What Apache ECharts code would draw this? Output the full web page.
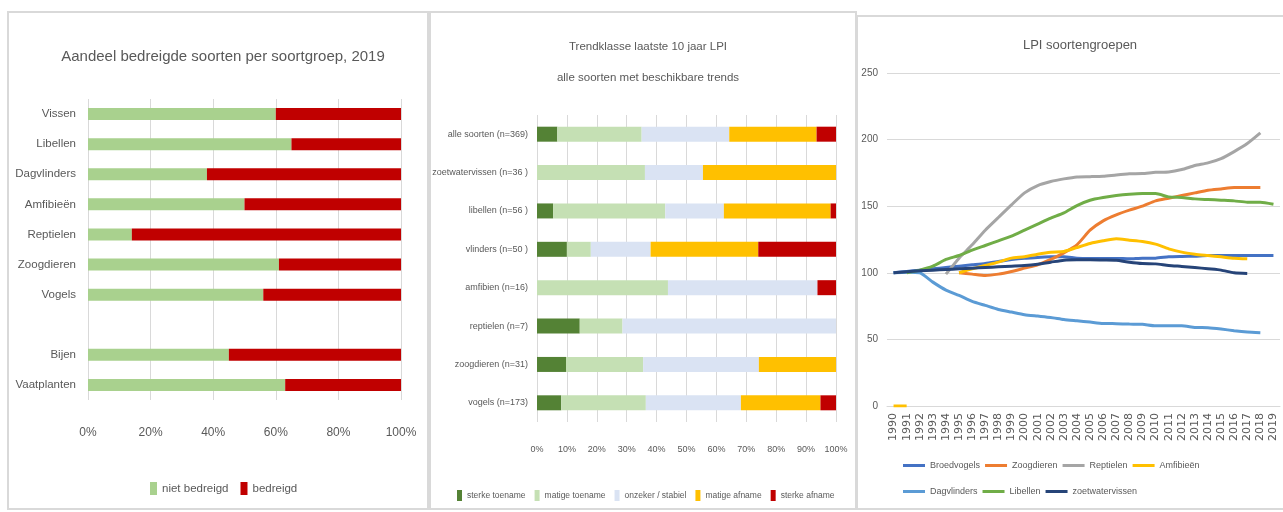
<!DOCTYPE html>
<html>
<head>
<meta charset="utf-8">
<script src="https://cdn.jsdelivr.net/npm/echarts@6/dist/echarts.min.js"></script>
<style>
  html, body { margin: 0; padding: 0; background: #fff; }
  #main { width: 1283px; height: 512px; }
</style>
</head>
<body>
<div id="main"></div>
<script>
// paneel 1: aandeel bedreigde soorten
const groepen = ['Vissen', 'Libellen', 'Dagvlinders', 'Amfibieën', 'Reptielen', 'Zoogdieren', 'Vogels', '', 'Bijen', 'Vaatplanten']
const nietBedreigd = [60, 65, 38, 50, 14, 61, 56, null, 45, 63]
const bedreigd = [40, 35, 62, 50, 86, 39, 44, null, 55, 37]

// paneel 2: trendklassen (% van soorten)
const trendGroepen = ['alle soorten (n=369)', 'zoetwatervissen (n=36 )', 'libellen (n=56 )', 'vlinders (n=50 )',
  'amfibien (n=16)', 'reptielen (n=7)', 'zoogdieren (n=31)', 'vogels (n=173)']
const sterkeToename = [6.8, 0, 5.4, 10, 0, 14.3, 9.7, 8.1]
const matigeToename = [28.2, 36.1, 37.5, 8, 43.8, 14.3, 25.8, 28.3]
const onzeker = [29.3, 19.4, 19.6, 20, 50, 71.4, 38.7, 31.8]
const matigeAfname = [29.2, 44.5, 35.7, 36, 0, 0, 25.8, 26.6]
const sterkeAfname = [6.5, 0, 1.8, 26, 6.2, 0, 0, 5.2]

// paneel 3: LPI per soortgroep
const jaren = []
for (let j = 1990; j <= 2019; j++) jaren.push(String(j))
const broedvogels = [100, 101, 102, 103, 104, 105, 106, 107, 108.5, 110, 111, 111.5, 112, 112, 111, 110.8, 110.8, 110.8, 110.5, 111, 111, 112, 112.3, 112.5, 113, 113, 113, 113, 113, 113]
const zoogdieren = [null, null, null, null, null, 100, 99, 98, 99, 101, 103.5, 106, 110, 115, 121, 132, 139, 143.5, 147, 150, 154, 156, 158, 160, 162, 163, 164, 164, 164, null]
const reptielen = [null, null, null, null, 99, 111, 121, 132, 141.5, 151, 160, 165.5, 168.5, 170.5, 172, 172.2, 172.5, 173.5, 174.3, 174.5, 175.5, 175.7, 177.5, 180.5, 182.5, 185.7, 191, 197, 205, null]
const amfibieen = [0, 0, null, null, null, 100, 103, 105.5, 108, 111, 112, 114, 115.5, 116, 119, 122, 124, 125.5, 124.5, 123.5, 121.5, 118, 115.5, 114, 113, 112, 111, 110.5, null, null]
const dagvlinders = [100, 100.5, 100, 93, 87, 83, 78.5, 75.5, 72.5, 70.5, 68.5, 67.5, 66.5, 65, 64, 63, 62, 61.8, 61.5, 61.3, 60.2, 60.3, 60.3, 59, 58.8, 57.8, 56.5, 55.5, 55, null]
const libellen = [null, 100, 102, 105, 110, 113, 117, 120.5, 124, 127.5, 132, 136.5, 141, 145, 150.5, 154.5, 156.5, 158, 159, 159.5, 159.5, 157, 156.5, 155.5, 155, 154.5, 154, 153, 153, 151.5]
const zoetwatervissen = [100, 100.8, 101.5, 102, 102.5, 103, 103.5, 104, 104.5, 105, 105.5, 106.5, 108, 109.5, 109.8, 109.8, 109.6, 109.4, 108, 107, 106.7, 105.5, 104.8, 104, 103, 102, 100, 99.5, null, null]

const FONT = "'Liberation Sans', Arial, sans-serif"
const GRIJS = '#595959'
const LIJN = '#d9d9d9'

const chart = echarts.init(document.getElementById('main'))

function lijn(naam, data, kleur) {
  return {
    name: naam, type: 'line', xAxisIndex: 2, yAxisIndex: 2, data: data,
    symbol: 'none', connectNulls: false, smooth: 0.2,
    lineStyle: { width: 3, color: kleur }, itemStyle: { color: kleur }
  }
}
function balk(naam, data, kleur, idx, breedte) {
  return {
    name: naam, type: 'bar', stack: 's' + idx, xAxisIndex: idx, yAxisIndex: idx,
    data: data, barWidth: breedte, itemStyle: { color: kleur }
  }
}

let option = {
  animation: false,
  textStyle: { fontFamily: FONT, color: GRIJS },
  graphic: [
    { type: 'rect', shape: { x: 8, y: 12, width: 420, height: 497 }, style: { fill: 'none', stroke: LIJN, lineWidth: 2 } },
    { type: 'rect', shape: { x: 430, y: 12, width: 426, height: 497 }, style: { fill: 'none', stroke: LIJN, lineWidth: 2 } },
    { type: 'rect', shape: { x: 857, y: 16, width: 440, height: 493 }, style: { fill: 'none', stroke: LIJN, lineWidth: 2 } }
  ],
  title: [
    { text: 'Aandeel bedreigde soorten per soortgroep, 2019', left: 218, top: 44, textAlign: 'center',
      textStyle: { fontFamily: FONT, fontSize: 15, fontWeight: 'normal', color: GRIJS } },
    { text: 'Trendklasse laatste 10 jaar LPI\nalle soorten met beschikbare trends', left: 643, top: 26, textAlign: 'center',
      textStyle: { fontFamily: FONT, fontSize: 11.5, fontWeight: 'normal', color: GRIJS, lineHeight: 31 } },
    { text: 'LPI soortengroepen', left: 1075, top: 34, textAlign: 'center',
      textStyle: { fontFamily: FONT, fontSize: 13, fontWeight: 'normal', color: GRIJS } }
  ],
  legend: [
    { data: ['niet bedreigd', 'bedreigd'], left: 145, top: 477, icon: 'rect', itemWidth: 7, itemHeight: 13, itemGap: 12,
      textStyle: { fontFamily: FONT, fontSize: 11.5, color: GRIJS } },
    { data: ['sterke toename', 'matige toename', 'onzeker / stabiel', 'matige afname', 'sterke afname'],
      left: 452, top: 485, icon: 'rect', itemWidth: 5, itemHeight: 11, itemGap: 9,
      textStyle: { fontFamily: FONT, fontSize: 8.5, color: GRIJS } },
    { data: ['Broedvogels', 'Zoogdieren', 'Reptielen', 'Amfibieën'], left: 898, top: 456, icon: 'rect',
      itemWidth: 22, itemHeight: 3, itemGap: 5,
      textStyle: { fontFamily: FONT, fontSize: 9, color: GRIJS, width: 56 } },
    { data: ['Dagvlinders', 'Libellen', 'zoetwatervissen'], left: 898, top: 482, icon: 'rect',
      itemWidth: 22, itemHeight: 3, itemGap: 5,
      textStyle: { fontFamily: FONT, fontSize: 9, color: GRIJS, width: 56 } }
  ],
  grid: [
    { left: 88, top: 99, width: 313, height: 301 },
    { left: 537, top: 115, width: 299, height: 307 },
    { left: 887, top: 73, width: 393, height: 333 }
  ],
  xAxis: [
    { type: 'value', gridIndex: 0, min: 0, max: 100, interval: 20,
      axisLabel: { formatter: '{value}%', fontSize: 12, margin: 27, color: GRIJS, fontFamily: FONT },
      splitLine: { lineStyle: { color: LIJN } }, axisLine: { show: false }, axisTick: { show: false } },
    { type: 'value', gridIndex: 1, min: 0, max: 100, interval: 10,
      axisLabel: { formatter: '{value}%', fontSize: 9, margin: 23, color: GRIJS, fontFamily: FONT },
      splitLine: { lineStyle: { color: LIJN } }, axisLine: { show: false }, axisTick: { show: false } },
    { type: 'category', gridIndex: 2, data: jaren, boundaryGap: true,
      axisLabel: { rotate: 90, interval: 0, fontSize: 11, margin: 7, color: GRIJS, fontFamily: 'DejaVu Sans' },
      axisLine: { lineStyle: { color: LIJN } }, axisTick: { show: false } }
  ],
  yAxis: [
    { type: 'category', gridIndex: 0, data: groepen, inverse: true,
      axisLabel: { fontSize: 11.5, margin: 12, color: GRIJS, fontFamily: FONT },
      axisLine: { show: false }, axisTick: { show: false } },
    { type: 'category', gridIndex: 1, data: trendGroepen, inverse: true,
      axisLabel: { fontSize: 9, margin: 9, color: GRIJS, fontFamily: FONT },
      axisLine: { show: false }, axisTick: { show: false } },
    { type: 'value', gridIndex: 2, min: 0, max: 250, interval: 50,
      axisLabel: { fontSize: 10, margin: 9, color: GRIJS, fontFamily: FONT },
      splitLine: { lineStyle: { color: LIJN } }, axisLine: { show: false }, axisTick: { show: false } }
  ],
  series: [
    balk('niet bedreigd', nietBedreigd, '#A9D18E', 0, 12),
    balk('bedreigd', bedreigd, '#C00000', 0, 12),
    balk('sterke toename', sterkeToename, '#548235', 1, 15),
    balk('matige toename', matigeToename, '#C5E0B4', 1, 15),
    balk('onzeker / stabiel', onzeker, '#DAE3F3', 1, 15),
    balk('matige afname', matigeAfname, '#FFC000', 1, 15),
    balk('sterke afname', sterkeAfname, '#C00000', 1, 15),
    lijn('Broedvogels', broedvogels, '#4472C4'),
    lijn('Zoogdieren', zoogdieren, '#ED7D31'),
    lijn('Reptielen', reptielen, '#A5A5A5'),
    lijn('Amfibieën', amfibieen, '#FFC000'),
    lijn('Dagvlinders', dagvlinders, '#5B9BD5'),
    lijn('Libellen', libellen, '#70AD47'),
    lijn('zoetwatervissen', zoetwatervissen, '#264478')
  ]
}
chart.setOption(option)
</script>
</body>
</html>
